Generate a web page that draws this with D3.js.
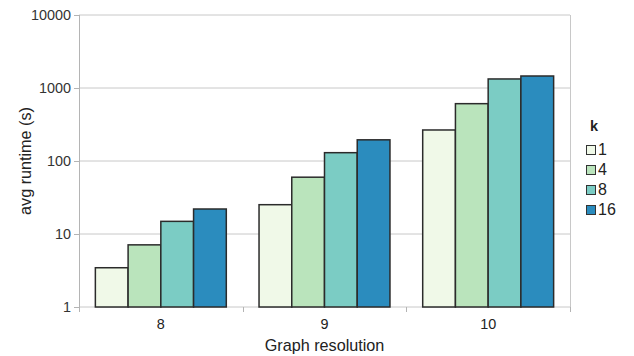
<!DOCTYPE html>
<html>
<head>
<meta charset="utf-8">
<script src="https://cdn.jsdelivr.net/npm/d3@7"></script>
<style>
  body { margin: 0; background: #fff; }
  svg { display: block; font-family: "Liberation Sans", Arial, sans-serif; }
</style>
</head>
<body>
<div id="chart"></div>
<script>
const categories = ["8", "9", "10"];
const kValues = ["1", "4", "8", "16"];
const runtimes = [
  [3.45, 7.1, 14.9, 22],
  [25.2, 60, 130, 195],
  [266, 610, 1330, 1460]
];
const yTicks = [1, 10, 100, 1000, 10000];
const colors = ["#f0f9e8", "#bae4bc", "#7bccc4", "#2b8cbe"];

const width = 634, height = 356;
const margin = { top: 15, right: 64, bottom: 49, left: 79 };
const innerW = width - margin.left - margin.right;
const innerH = height - margin.top - margin.bottom;

const svg = d3.select("#chart").append("svg")
  .attr("width", width)
  .attr("height", height);

const g = svg.append("g")
  .attr("transform", "translate(" + margin.left + "," + margin.top + ")");

const x0 = d3.scaleBand().domain(categories).range([0, innerW]).paddingInner(0).paddingOuter(0);
const x1 = d3.scaleBand().domain(kValues).range([x0.bandwidth() * 0.1, x0.bandwidth() * 0.9]);
const y = d3.scaleLog().domain([1, 10000]).range([innerH, 0]);
const color = d3.scaleOrdinal().domain(kValues).range(colors);

// grid
g.selectAll("line.grid")
  .data(yTicks)
  .enter()
  .append("line")
  .attr("class", "grid")
  .attr("x1", 0)
  .attr("x2", innerW)
  .attr("y1", (d) => y(d))
  .attr("y2", (d) => y(d))
  .attr("stroke", "#c8c8c8")
  .attr("stroke-width", 1);

// right border
g.append("line")
  .attr("x1", innerW + 0.5).attr("x2", innerW + 0.5)
  .attr("y1", 0).attr("y2", innerH)
  .attr("stroke", "#c8c8c8");

// y axis
const yAxis = g.append("g")
  .call(d3.axisLeft(y).tickValues(yTicks).tickFormat(d3.format("d")).tickSize(5).tickPadding(3));
yAxis.select(".domain").attr("stroke", "#b4b4b4").attr("d", "M0.5,0V" + (innerH + 5));
yAxis.selectAll(".tick line").attr("stroke", "#b4b4b4");
yAxis.selectAll("text").attr("font-size", 14.4).attr("fill", "#333");

// x axis
const xAxis = g.append("g")
  .attr("transform", "translate(0," + innerH + ")")
  .call(d3.axisBottom(x0).tickSize(0).tickPadding(12));
xAxis.select(".domain").remove();
xAxis.selectAll("text").attr("font-size", 14.4).attr("fill", "#222");
g.selectAll("line.xtick")
  .data(d3.range(categories.length + 1))
  .enter()
  .append("line")
  .attr("class", "xtick")
  .attr("x1", (i) => Math.round(i * x0.bandwidth()) + 0.5)
  .attr("x2", (i) => Math.round(i * x0.bandwidth()) + 0.5)
  .attr("y1", innerH)
  .attr("y2", innerH + 5)
  .attr("stroke", "#b4b4b4");

// bars
const groups = g.selectAll("g.group")
  .data(runtimes)
  .enter()
  .append("g")
  .attr("class", "group")
  .attr("transform", (d, i) => "translate(" + x0(categories[i]) + ",0)");

groups.selectAll("rect")
  .data((d) => d.map((v, j) => ({ k: kValues[j], v: v })))
  .enter()
  .append("rect")
  .attr("x", (d) => x1(d.k))
  .attr("y", (d) => y(d.v))
  .attr("width", x1.bandwidth())
  .attr("height", (d) => y(1) - y(d.v))
  .attr("fill", (d) => color(d.k))
  .attr("stroke", "#2b2b2b")
  .attr("stroke-width", 1.5);

// axis titles
svg.append("text")
  .attr("transform", "translate(31," + (margin.top + innerH / 2) + ") rotate(-90)")
  .attr("text-anchor", "middle")
  .attr("font-size", 16.2)
  .attr("fill", "#222")
  .text("avg runtime (s)");

svg.append("text")
  .attr("x", margin.left + innerW / 2)
  .attr("y", 351)
  .attr("text-anchor", "middle")
  .attr("font-size", 16.2)
  .attr("fill", "#222")
  .text("Graph resolution");

// legend
const legend = svg.append("g").attr("transform", "translate(586,0)");
legend.append("text")
  .attr("x", 4)
  .attr("y", 131)
  .attr("font-size", 14.5)
  .attr("font-weight", "bold")
  .attr("fill", "#222")
  .text("k");

const item = legend.selectAll("g.legend")
  .data(kValues)
  .enter()
  .append("g")
  .attr("class", "legend")
  .attr("transform", (d, i) => "translate(0," + (145 + i * 20) + ")");
item.append("rect")
  .attr("x", 0.5).attr("y", 0.5)
  .attr("width", 9).attr("height", 9)
  .attr("fill", (d) => color(d))
  .attr("stroke", "#333")
  .attr("stroke-width", 1);
item.append("text")
  .attr("x", 12)
  .attr("y", 10)
  .attr("font-size", 16)
  .attr("fill", "#222")
  .text((d) => d);
</script>
</body>
</html>
